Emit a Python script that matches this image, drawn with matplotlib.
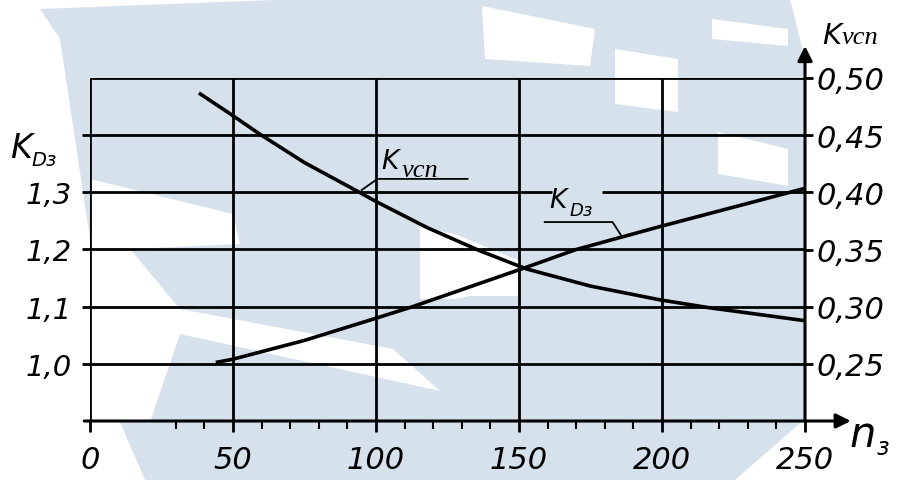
import numpy as np
import matplotlib
matplotlib.use("Agg")
import matplotlib.pyplot as plt
from matplotlib.patches import Polygon

# values
n_vcn = [38.6, 49.4, 59.3, 75, 94.2, 100, 118, 136.2, 152.6, 175, 199.2, 216.7, 249.2]
k_vcn = [0.486, 0.468, 0.451, 0.426, 0.400, 0.392, 0.369, 0.349, 0.333, 0.318, 0.306, 0.299, 0.288]

n_d3 = [44.6, 49.9, 75, 99.5, 112.8, 152.6, 170, 199.2, 249.2]
k_d3 = [1.003, 1.008, 1.041, 1.079, 1.100, 1.169, 1.200, 1.240, 1.306]

x_ticks = [0, 50, 100, 150, 200, 250]
x_labels = ["0", "50", "100", "150", "200", "250"]
x_minor = [30, 40, 60, 70, 80, 90, 110, 120, 130, 140, 160, 170, 180, 190,
           210, 220, 230, 240]
left_ticks = [1.0, 1.1, 1.2, 1.3, 1.4]
left_labels = ["1,0", "1,1", "1,2", "1,3", ""]
right_ticks = [0.25, 0.30, 0.35, 0.40, 0.45, 0.50]
right_labels = ["0,25", "0,30", "0,35", "0,40", "0,45", "0,50"]
grid_k = [1.0, 1.1, 1.2, 1.4, 1.5]

W, H = 915, 481
fig = plt.figure(figsize=(W / 100, H / 100), dpi=100)
fig.patch.set_facecolor("white")

# pale watermark in the background (pixel coords, y from the top)
wm = "#d6e1eb"
def px(pts):
    return [(x / W, 1 - y / H) for x, y in pts]

blue = [(40, 10), (300, 0), (790, 0), (805, 60), (805, 420), (735, 481),
        (145, 481), (120, 423), (90, 240), (60, 40)]
fig.add_artist(Polygon(px(blue), closed=True, fc=wm, ec="none", zorder=-5))
whites = [
    [(90, 180), (233, 215), (240, 245), (130, 250), (180, 310), (393, 350),
     (440, 392), (180, 335), (150, 423), (90, 423)],
    [(420, 228), (455, 235), (520, 262), (520, 297), (470, 297), (455, 300), (420, 300)],
    [(482, 7), (595, 30), (590, 67), (485, 60)],
    [(615, 50), (678, 60), (678, 113), (615, 105)],
    [(712, 20), (788, 30), (788, 47), (712, 40)],
    [(718, 133), (788, 150), (788, 187), (718, 175)],
]
for w in whites:
    fig.add_artist(Polygon(px(w), closed=True, fc="white", ec="none", zorder=-4))

ax = fig.add_axes([90 / W, 1 - 422 / H, 715 / W, 343 / H])
ax.set_facecolor("none")
ax.set_xlim(0, 250)
ax.set_ylim(0.9, 1.5)
for s in ax.spines.values():
    s.set_visible(False)

lw_grid = 2.0
ax.hlines(grid_k, 0, 250, color="black", lw=lw_grid)
# 1.3 line is broken where the K_D3 label sits
ax.hlines(1.3, 0, 161.5, color="black", lw=lw_grid)
ax.hlines(1.3, 179, 250, color="black", lw=lw_grid)
ax.vlines([0, 50, 100, 150, 200], 0.9, 1.5, color="black", lw=lw_grid)

arrow = dict(arrowstyle="-|>", color="black", lw=2.2, mutation_scale=22,
             shrinkA=0, shrinkB=0)
ax.annotate("", xy=(266, 0.9), xytext=(-2, 0.9), arrowprops=arrow,
            annotation_clip=False)
ax.annotate("", xy=(250, 1.556), xytext=(250, 0.9), arrowprops=arrow,
            annotation_clip=False)

ax.plot(n_d3, k_d3, color="black", lw=2.6, solid_joinstyle="round")

tfont = dict(family="DejaVu Sans", style="oblique")
sfont = dict(family="Liberation Serif", style="italic")
ax.set_xticks(x_ticks)
ax.set_xticklabels(x_labels, fontsize=22, **tfont)
ax.set_xticks(x_minor, minor=True)
ax.tick_params(axis="x", which="major", direction="out", length=8, width=2,
               pad=9)
ax.tick_params(axis="x", which="minor", direction="out", length=6, width=1.5)
ax.set_yticks(left_ticks)
ax.set_yticklabels(left_labels, fontsize=21, **tfont)
ax.tick_params(axis="y", direction="out", length=6, width=2, pad=7)

ax2 = ax.twinx()
ax2.set_facecolor("none")
ax2.set_ylim(0.2, 0.5)
for s in ax2.spines.values():
    s.set_visible(False)
ax2.plot(n_vcn, k_vcn, color="black", lw=2.6, solid_joinstyle="round")
ax2.set_yticks(right_ticks)
ax2.set_yticklabels(right_labels, fontsize=22, **tfont)
ax2.tick_params(axis="y", direction="out", length=6, width=2, pad=2)

# curve labels with leader lines
ax.plot([95, 100.5, 132], [1.304, 1.3235, 1.3235], color="black", lw=1.3)
ax.text(102, 1.343, "K", fontsize=19, **tfont)
ax.text(109, 1.329, "vсп", fontsize=19, **sfont)
ax.plot([159, 182.7, 185.8], [1.248, 1.248, 1.224], color="black", lw=1.3)
ax.text(160.5, 1.275, "K", fontsize=19, **tfont)
ax.text(167.5, 1.261, "Dз", fontsize=13, **tfont)

# axis titles
fig.text(10 / W, 1 - 158 / H, "K", fontsize=24, **tfont)
fig.text(31 / W, 1 - 166 / H, "Dз", fontsize=14, **tfont)
fig.text(822 / W, 1 - 44 / H, "K", fontsize=21, **tfont)
fig.text(842 / W, 1 - 44 / H, "vсп", fontsize=19, **sfont)
fig.text(850 / W, 1 - 447 / H, "n", fontsize=30, **tfont)
fig.text(877 / W, 1 - 455 / H, "з", fontsize=17, **tfont)

fig.savefig("out.png", dpi=100)
